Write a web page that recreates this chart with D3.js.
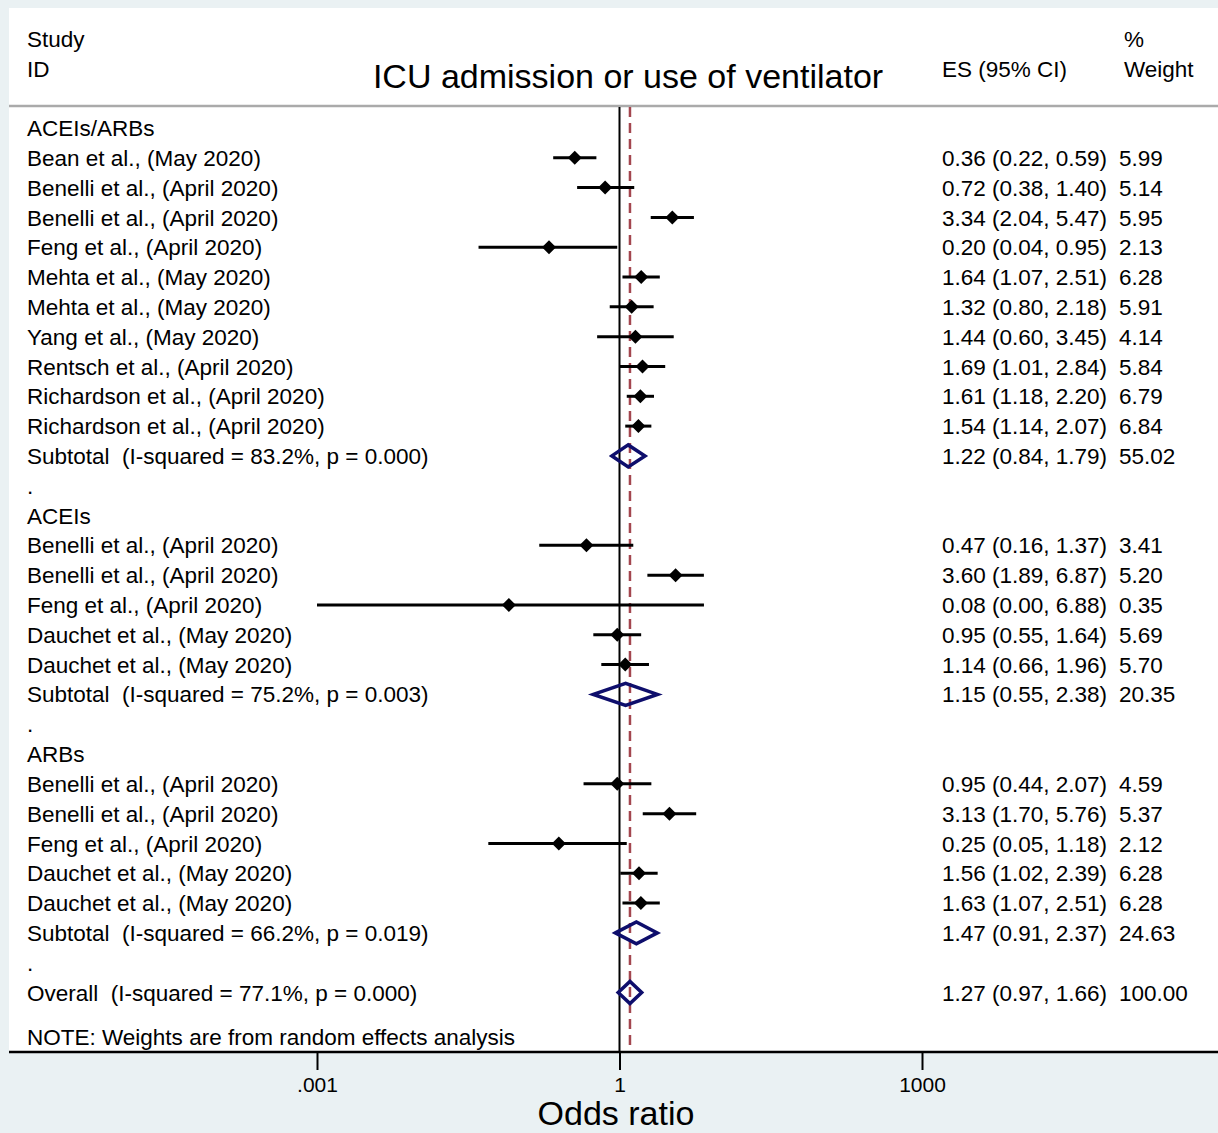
<!DOCTYPE html>
<html>
<head>
<meta charset="utf-8">
<script src="https://cdn.jsdelivr.net/npm/d3@7"></script>
<style>
  body { margin: 0; background: #eaf1f3; }
  text { font-family: "Liberation Sans", Arial, sans-serif; fill: #000; white-space: pre; }
</style>
</head>
<body>
<div id="chart"></div>
<script>
// rows of the forest plot, top to bottom
var rowLabels = [
    'ACEIs/ARBs',
    'Bean et al., (May 2020)',
    'Benelli et al., (April 2020)',
    'Benelli et al., (April 2020)',
    'Feng et al., (April 2020)',
    'Mehta et al., (May 2020)',
    'Mehta et al., (May 2020)',
    'Yang et al., (May 2020)',
    'Rentsch et al., (April 2020)',
    'Richardson et al., (April 2020)',
    'Richardson et al., (April 2020)',
    'Subtotal  (I-squared = 83.2%, p = 0.000)',
    '.',
    'ACEIs',
    'Benelli et al., (April 2020)',
    'Benelli et al., (April 2020)',
    'Feng et al., (April 2020)',
    'Dauchet et al., (May 2020)',
    'Dauchet et al., (May 2020)',
    'Subtotal  (I-squared = 75.2%, p = 0.003)',
    '.',
    'ARBs',
    'Benelli et al., (April 2020)',
    'Benelli et al., (April 2020)',
    'Feng et al., (April 2020)',
    'Dauchet et al., (May 2020)',
    'Dauchet et al., (May 2020)',
    'Subtotal  (I-squared = 66.2%, p = 0.019)',
    '.',
    'Overall  (I-squared = 77.1%, p = 0.000)'
];
var rowType = ['head','study','study','study','study','study','study','study','study','study','study','sub','gap',
               'head','study','study','study','study','study','sub','gap',
               'head','study','study','study','study','study','sub','gap','sub'];
var es     = [null,0.36,0.72,3.34,0.20,1.64,1.32,1.44,1.69,1.61,1.54,1.22,null,
              null,0.47,3.60,0.08,0.95,1.14,1.15,null,
              null,0.95,3.13,0.25,1.56,1.63,1.47,null,1.27];
var ciLow  = [null,0.22,0.38,2.04,0.04,1.07,0.80,0.60,1.01,1.18,1.14,0.84,null,
              null,0.16,1.89,0.001,0.55,0.66,0.55,null,
              null,0.44,1.70,0.05,1.02,1.07,0.91,null,0.97];
var ciHigh = [null,0.59,1.40,5.47,0.95,2.51,2.18,3.45,2.84,2.20,2.07,1.79,null,
              null,1.37,6.87,6.88,1.64,1.96,2.38,null,
              null,2.07,5.76,1.18,2.39,2.51,2.37,null,1.66];
var weights = ['','5.99','5.14','5.95','2.13','6.28','5.91','4.14','5.84','6.79','6.84','55.02','',
               '','3.41','5.20','0.35','5.69','5.70','20.35','',
               '','4.59','5.37','2.12','6.28','6.28','24.63','','100.00'];
var overallES = 1.27;
var tickValues = [0.001, 1, 1000];
var tickLabels = ['.001', '1', '1000'];

const width = 1218;
const height = 1133;
const fs = '22.5px';

var svg = d3.select('#chart')
    .append('svg')
        .attr('width', width)
        .attr('height', height);

// outer background + white plot region
svg.append('rect')
    .attr('width', width).attr('height', height)
    .attr('fill', '#eaf1f3');
svg.append('rect')
    .attr('x', 9).attr('y', 8)
    .attr('width', width - 9).attr('height', 1044)
    .attr('fill', '#fff');

var x = d3.scaleLog()
    .domain([0.001, 1000])
    .range([317, 922]);

var y = d3.scaleLinear()
    .domain([0, rowLabels.length - 1])
    .range([128, 992.5]);

// header
svg.append('text').text('Study').attr('x', 27).attr('y', 47).style('font-size', fs);
svg.append('text').text('ID').attr('x', 27).attr('y', 77).style('font-size', fs);
svg.append('text').text('ICU admission or use of ventilator')
    .attr('x', 628).attr('y', 88)
    .attr('text-anchor', 'middle')
    .style('font-size', '34px');
svg.append('text').text('ES (95% CI)').attr('x', 942).attr('y', 77).style('font-size', fs);
svg.append('text').text('%').attr('x', 1124).attr('y', 47).style('font-size', fs);
svg.append('text').text('Weight').attr('x', 1124).attr('y', 77).style('font-size', fs);

svg.append('line')
    .attr('x1', 9).attr('x2', width)
    .attr('y1', 106).attr('y2', 106)
    .attr('stroke', '#aaa')
    .attr('stroke-width', 2.5);

// null line and overall line
svg.append('line')
    .attr('x1', x(1)).attr('x2', x(1))
    .attr('y1', 107).attr('y2', 1052)
    .attr('stroke', '#000')
    .attr('stroke-width', 2);

svg.append('line')
    .attr('x1', x(overallES)).attr('x2', x(overallES))
    .attr('y1', 107).attr('y2', 1050)
    .attr('stroke', '#a3464f')
    .attr('stroke-width', 2.5)
    .attr('stroke-dasharray', '10,6');

// row labels
svg.selectAll('.row-label')
    .data(rowLabels)
    .enter()
    .append('text')
        .attr('class', 'row-label')
        .text(d => d)
        .attr('x', 27)
        .attr('y', (d, i) => y(i))
        .attr('dy', '0.36em')
        .style('font-size', fs);

var idx = d3.range(rowLabels.length).filter(i => es[i] !== null);

// ES text and weights
svg.selectAll('.es-text')
    .data(idx)
    .enter()
    .append('text')
        .attr('class', 'es-text')
        .text(i => es[i].toFixed(2) + ' (' + ciLow[i].toFixed(2) + ', ' + ciHigh[i].toFixed(2) + ')')
        .attr('x', 942)
        .attr('y', i => y(i))
        .attr('dy', '0.36em')
        .style('font-size', fs);

svg.selectAll('.wt-text')
    .data(idx)
    .enter()
    .append('text')
        .attr('class', 'wt-text')
        .text(i => weights[i])
        .attr('x', 1119)
        .attr('y', i => y(i))
        .attr('dy', '0.36em')
        .style('font-size', fs);

// study CIs and markers
var studies = idx.filter(i => rowType[i] === 'study');

svg.selectAll('.ci-line')
    .data(studies)
    .enter()
    .append('line')
        .attr('class', 'ci-line')
        .attr('x1', i => x(ciLow[i]))
        .attr('x2', i => x(ciHigh[i]))
        .attr('y1', i => y(i))
        .attr('y2', i => y(i))
        .attr('stroke', '#000')
        .attr('stroke-width', 3);

svg.selectAll('.marker')
    .data(studies)
    .enter()
    .append('path')
        .attr('class', 'marker')
        .attr('d', i => {
            let cx = x(es[i]), cy = y(i);
            return `M${cx - 7},${cy} L${cx},${cy - 7} L${cx + 7},${cy} L${cx},${cy + 7} Z`;
        })
        .attr('fill', '#000');

// pooled diamonds
var pooled = idx.filter(i => rowType[i] === 'sub');

svg.selectAll('.pooled')
    .data(pooled)
    .enter()
    .append('path')
        .attr('class', 'pooled')
        .attr('d', i => {
            let cy = y(i);
            return `M${x(ciLow[i])},${cy} L${x(es[i])},${cy - 11} L${x(ciHigh[i])},${cy} L${x(es[i])},${cy + 11} Z`;
        })
        .attr('fill', 'none')
        .attr('stroke', '#0e0e6c')
        .attr('stroke-width', 3.5);

// note
svg.append('text')
    .text('NOTE: Weights are from random effects analysis')
    .attr('x', 27).attr('y', 1037)
    .attr('dy', '0.36em')
    .style('font-size', fs);

// x axis
var xAxis = d3.axisBottom(x)
    .tickValues(tickValues)
    .tickFormat((d, i) => tickLabels[i])
    .tickSize(18)
    .tickSizeOuter(0)
    .tickPadding(7);

var gX = svg.append('g')
    .attr('transform', 'translate(0,1052)')
    .call(xAxis);

gX.select('.domain').remove();
gX.selectAll('.tick line').attr('stroke', '#000').attr('stroke-width', 2);
gX.selectAll('.tick text')
    .style('font-size', '21px')
    .style('font-family', '"Liberation Sans", Arial, sans-serif')
    .attr('fill', '#000');

svg.append('line')
    .attr('x1', 9).attr('x2', width)
    .attr('y1', 1052).attr('y2', 1052)
    .attr('stroke', '#000')
    .attr('stroke-width', 2.5);

svg.append('text')
    .text('Odds ratio')
    .attr('x', 616).attr('y', 1125)
    .attr('text-anchor', 'middle')
    .style('font-size', '34px');
</script>
</body>
</html>
